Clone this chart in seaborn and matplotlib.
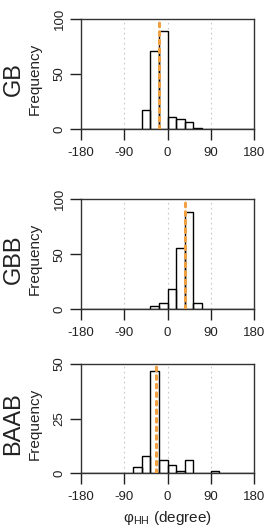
import numpy as np
import pandas as pd
import matplotlib
matplotlib.use("Agg")
import matplotlib.pyplot as plt
import seaborn as sns

sns.set_style("white")
plt.rcParams['font.family'] = ['Liberation Sans', 'DejaVu Sans']
plt.rcParams['mathtext.fontset'] = 'custom'
plt.rcParams['mathtext.rm'] = 'Liberation Sans'
plt.rcParams['mathtext.it'] = 'Liberation Sans:italic'

# ---- data ----
bin_edges = [-180, -162, -144, -126, -108, -90, -72, -54, -36, -18,
             0, 18, 36, 54, 72, 90, 108, 126, 144, 162, 180]
panel_names = ["GB", "GBB", "BAAB"]
counts_GB = [0, 0, 0, 0, 0, 0, 0, 17, 71, 89, 11, 9, 6, 1, 0, 0, 0, 0, 0, 0]
counts_GBB = [0, 0, 0, 0, 0, 0, 0, 0, 3, 6, 18, 56, 88, 6, 0, 0, 0, 0, 0, 0]
counts_BAAB = [0, 0, 0, 0, 0, 0, 3, 8, 47, 6, 4, 1, 6, 0, 0, 1, 0, 0, 0, 0]
mean_lines = [-17, 37, -23]
y_max = [100, 100, 50]
y_ticks = [[0, 50, 100], [0, 50, 100], [0, 25, 50]]
x_ticks = [-180, -90, 0, 90, 180]
grid_x = [-90, 0, 90]
x_label = r"φ$_{\mathrm{HH}}$ (degree)"

all_counts = [counts_GB, counts_GBB, counts_BAAB]

W, H = 267, 531
fig = plt.figure(figsize=(W / 100, H / 100), dpi=100)

left, right = 81 / W, 254 / W
boxes = [(19, 129), (199, 309.3), (364, 473.3)]

for i, (name, counts) in enumerate(zip(panel_names, all_counts)):
    top_px, bot_px = boxes[i]
    ax = fig.add_axes([left, 1 - bot_px / H, right - left, (bot_px - top_px) / H])
    centers = [(a + b) / 2 for a, b in zip(bin_edges[:-1], bin_edges[1:])]
    df = pd.DataFrame({"phi": centers, "n": counts})
    df = df[df["n"] > 0]
    for gx in grid_x:
        ax.axvline(gx, color="#c8c8c8", lw=0.8, ls=(0, (1.5, 3)), zorder=0)
    sns.histplot(data=df, x="phi", weights="n", bins=bin_edges, ax=ax,
                 stat="count", element="bars", fill=False, color="black",
                 edgecolor="black", linewidth=1.0, zorder=2)
    ax.axvline(mean_lines[i], color="#f0a040", lw=2.2, ls=(0, (1.2, 1.6)),
               dash_capstyle="round", zorder=3)
    ax.set_xlim(-180, 180)
    ax.set_ylim(0, y_max[i])
    ax.set_xticks(x_ticks)
    ax.set_xticklabels([str(t) for t in x_ticks])
    ax.set_yticks(y_ticks[i])
    ax.set_yticklabels([str(t) for t in y_ticks[i]], rotation=90, va="center")
    ax.tick_params(axis="both", direction="out", length=8, width=1.0,
                   labelsize=9.5, color="#222222", labelcolor="#222222",
                   bottom=True, left=True, pad=3)
    ax.tick_params(axis="x", pad=5)
    for s in ax.spines.values():
        s.set_visible(True)
        s.set_color("#333333")
        s.set_linewidth(1.0)
    ax.set_xlabel("")
    ax.set_ylabel("")
    yc = 1 - ((top_px + bot_px) / 2 + 5) / H
    fig.text(13.5 / W, yc, name, rotation=90, ha="center", va="center",
             fontsize=17, color="#222222")
    fig.text(35 / W, yc, "Frequency", rotation=90, ha="center", va="center",
             fontsize=11, color="#222222")

fig.text((left + right) / 2, 1 - 518 / H, x_label, ha="center", va="center",
         fontsize=11, color="#222222")

fig.savefig("out.png", dpi=100, facecolor="white")
